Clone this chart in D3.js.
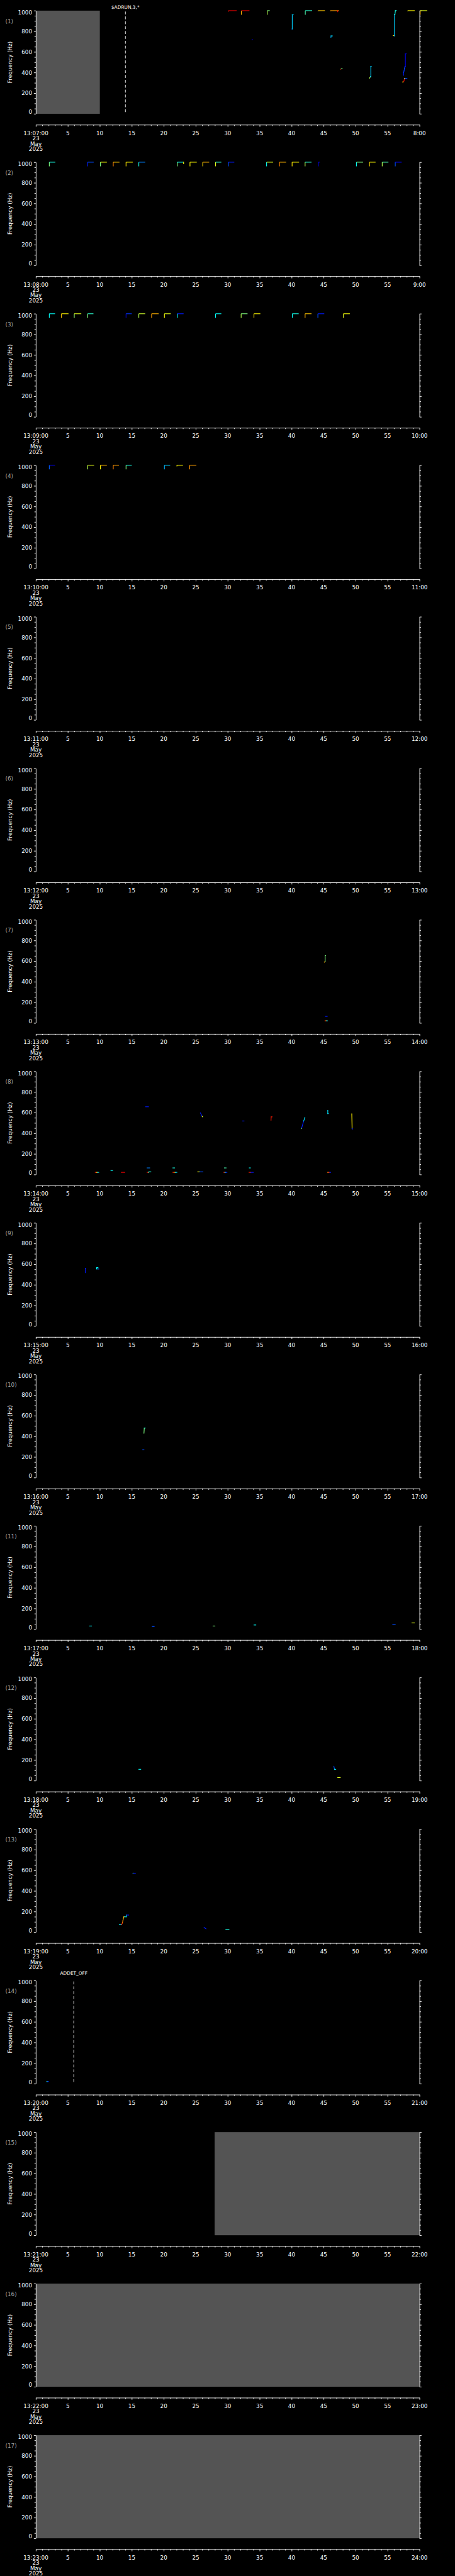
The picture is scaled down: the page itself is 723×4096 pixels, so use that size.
<!DOCTYPE html>
<html><head><meta charset="utf-8">
<script src="https://cdn.jsdelivr.net/npm/d3@7"></script>
<style>html,body{margin:0;padding:0;background:#000;}svg{display:block;}</style>
</head><body>
<svg id="chart" width="723" height="4096" viewBox="0 0 1024 5802"></svg>
<script>
// ---------------- DATA ----------------
const panelStarts = ["13:07","13:08","13:09","13:10","13:11","13:12","13:13","13:14","13:15",
                     "13:16","13:17","13:18","13:19","13:20","13:21","13:22","13:23"];
const dateLines = ["23","May","2025"];
const yMajorTicks = [0,200,400,600,800,1000];
const yMinorTicks = [50,100,150,250,300,350,450,500,550,650,700,750,850,900,950];
const xMajorTicks = [0,5,10,15,20,25,30,35,40,45,50,55,60];
const xMinorTicks = [1,2,3,4,6,7,8,9,11,12,13,14,16,17,18,19,21,22,23,24,26,27,28,29,
                     31,32,33,34,36,37,38,39,41,42,43,44,46,47,48,49,51,52,53,54,56,57,58,59];
// no-data (gray) intervals: [panel, startSec, endSec]
const grayBlocks = [[0,0,10],[14,27.95,60],[15,0,60],[16,0,60]];
// event markers: [panel, sec, label]
const events = [[0,14,"$ADRUN,3,*"],[13,5.93,"ADDET_OFF"]];
// hook-shaped tracks: [panel, tStart, tEnd, fLow, colourVert, colourHoriz]
const hooks = [
 [0,30.1,31.4,990,.85,.9],[0,32.14,33.4,960,.7,.9],[0,36.17,36.57,960,.55,.5],
 [0,42.13,43.2,960,.45,.42],[0,44.12,45.2,995,.7,.68],[0,46.05,47.4,995,.72,.72],
 [0,58.14,59.24,995,.63,.63],[0,60.1,61.2,960,.7,.6],
 [1,2.1,3.04,960,.5,.4],[1,8.09,9.04,960,.15,.2],[1,10.1,11.1,960,.5,.62],[1,12.1,13.07,960,.75,.68],
 [1,14.1,15.15,960,.65,.63],[1,16.1,17.1,960,.4,.25],[1,22.1,23.1,960,.5,.38],[1,24.1,25.16,960,.63,.63],
 [1,26.1,27.1,960,.66,.7],[1,28.1,29.0,960,.6,.42],[1,30.1,31.03,960,.2,.15],[1,36.08,37.1,960,.38,.6],
 [1,38.1,39.13,960,.75,.7],[1,40.07,41.16,960,.65,.63],[1,42.1,43.1,960,.55,.42],[1,44.17,44.4,960,.08,.08],
 [1,50.13,51.17,960,.38,.5],[1,52.17,53.12,960,.66,.63],[1,54.16,55.13,960,.55,.45],[1,56.2,57.2,960,.2,.12],
 [2,2.1,3.0,960,.38,.38],[2,4.0,5.1,960,.68,.63],[2,6.0,7.1,960,.52,.6],[2,8.1,9.0,960,.5,.42],
 [2,14.1,15.0,960,.08,.18],[2,16.1,17.1,960,.55,.58],[2,18.1,19.2,960,.72,.7],[2,20.1,21.1,960,.62,.6],
 [2,22.1,23.1,960,.38,.15],[2,28.1,29.0,960,.38,.38],
 [2,32.1,33.1,960,.55,.5],[2,34.1,35.1,960,.65,.63],[2,40.1,41.1,960,.38,.4],[2,42.1,43.1,960,.7,.68],
 [2,44.1,45.1,960,.2,.15],[2,48.1,49.1,960,.6,.62],
 [3,2.1,3.0,960,.22,.1],[3,8.1,9.1,960,.55,.6],[3,10.1,11.1,960,.63,.7],[3,12.1,13.0,960,.75,.72],
 [3,14.1,15.0,960,.5,.4],[3,20.1,21.0,960,.3,.33],[3,22.05,23.0,990,.63,.63],[3,24.05,25.1,960,.73,.72]
];
// free tracks: [panel, [[sec, Hz, colourOfSegmentEndingHere], ...]]
const tracks = [
 [0,[[33.8,719,.05],[33.9,719,.05]]],
 [0,[[40.05,822,.2],[40.09,822,.2],[40.09,960,.33],[40.25,960,.33]]],
 [0,[[47.2,1000,.88],[47.2,990,.88]]],
 [0,[[46.14,740,.3],[46.16,755,.3],[46.37,755,.35]]],
 [0,[[47.67,432,.85],[47.75,436,.85],[47.9,439,.5]]],
 [0,[[52.17,345,.55],[52.31,360,.55],[52.38,360,.33],[52.38,460,.33],[52.45,460,.33]]],
 [0,[[55.87,758,.65],[56.06,758,.65],[56.08,755,.2],[56.08,963,.33],[56.15,963,.4],[56.22,1000,.4],[56.38,1000,.4]]],
 [0,[[57.5,374,.15],[57.5,400,.15],[57.57,415,.18],[57.64,440,.18],[57.71,458,.2],[57.78,458,.15],[57.78,581,.12],[57.92,581,.12]]],
 [0,[[57.33,308,.65],[57.52,310,.65],[57.57,320,.9],[57.64,343,.9],[57.71,343,.55],[58.03,343,.2]]],
 [1,[[23.1,1000,.62],[23.1,985,.62]]],
 [6,[[45.1,590,.7],[45.23,596,.7],[45.23,653,.5],[45.3,653,.5]]],
 [6,[[45.28,64,.15],[45.56,64,.15]]],
 [6,[[45.2,21,.85],[45.35,21,.85],[45.45,21,.7],[45.6,21,.35]]],
 [7,[[9.28,21,.85],[9.5,21,.85],[9.65,21,.65],[9.83,21,.35]]],
 [7,[[11.73,39,.38],[12.0,39,.38]]],
 [7,[[13.36,21,.88],[13.9,21,.88]]],
 [7,[[17.16,657,.15],[17.61,657,.15]]],
 [7,[[17.39,64,.25],[17.8,64,.25]]],
 [7,[[17.39,21,.85],[17.6,21,.85],[17.7,26,.45],[17.98,26,.4]]],
 [7,[[21.42,64,.4],[21.69,64,.4]]],
 [7,[[21.42,21,.85],[21.6,21,.85],[21.8,21,.7],[22.05,21,.35]]],
 [7,[[25.72,598,.15],[25.99,566,.15],[26.08,559,.6]]],
 [7,[[25.31,26,.62],[25.6,26,.62],[26.13,26,.2]]],
 [7,[[29.48,64,.45],[29.75,64,.45]]],
 [7,[[29.39,21,.85],[29.55,21,.85],[29.7,21,.4],[29.88,21,.15]]],
 [7,[[32.33,519,.15],[32.55,519,.15]]],
 [7,[[33.37,64,.38],[33.55,64,.38]]],
 [7,[[33.33,21,.85],[33.6,21,.85],[34.0,21,.15]]],
 [7,[[36.77,526,.85],[36.8,559,.85],[36.95,559,.85]]],
 [7,[[41.55,445,.5],[41.57,452,.5],[41.88,519,.15],[42.07,554,.35]]],
 [7,[[45.6,619,.35],[45.65,619,.35],[45.65,591,.35],[45.73,591,.35]]],
 [7,[[45.6,21,.75],[45.8,21,.75],[45.95,21,.85],[46.1,21,.15]]],
 [7,[[49.4,588,.64],[49.45,445,.64],[49.54,441,.15]]],
 [8,[[7.74,517,.15],[7.74,561,.15],[7.8,561,.15]]],
 [8,[[9.5,553,.38],[9.5,567,.38],[9.7,567,.38],[9.7,553,.38],[9.85,553,.2]]],
 [9,[[16.9,430,.5],[16.95,480,.5],[17.1,480,.4]]],
 [9,[[16.7,270,.2],[16.9,270,.2]]],
 [10,[[8.4,30,.38],[8.7,30,.38]]],
 [10,[[18.2,25,.2],[18.5,25,.2]]],
 [10,[[27.7,30,.5],[28.0,30,.5]]],
 [10,[[34.1,40,.38],[34.4,40,.38]]],
 [10,[[55.8,45,.2],[56.2,45,.2]]],
 [10,[[58.8,60,.6],[59.2,60,.6]]],
 [11,[[16.1,110,.38],[16.4,110,.38]]],
 [11,[[46.6,140,.2],[46.7,110,.2],[46.9,110,.38]]],
 [11,[[47.2,30,.6],[47.6,30,.6]]],
 [12,[[13.05,72,.38],[13.39,72,.38],[13.53,89,.85],[13.62,115,.75],[13.74,149,.68],[13.86,149,.72],[14.13,149,.38],[14.2,166,.38],[14.5,166,.15]]],
 [12,[[15.18,572,.45],[15.25,572,.45],[15.57,572,.15]]],
 [12,[[26.3,46,.15],[26.6,33,.15]]],
 [12,[[29.7,24,.4],[30.2,24,.4]]],
 [13,[[1.7,21,.4],[1.85,21,.4],[1.97,21,.15]]]
];

// ---------------- LAYOUT ----------------
const W = 1024, H = 5802;
const L = 80.7, R = 944.3, TOP0 = 24, PH = 232.3, PSTEP = 341.3, AXOFF = 257;
const FONT = "DejaVu Sans, sans-serif";
const svg = d3.select("#chart");
svg.append("rect").attr("width", W).attr("height", H).attr("fill", "#000");

const jetInterp = v => {
  const c = u => Math.max(0, Math.min(1, u));
  return d3.rgb(255*c(1.5-Math.abs(4*v-3)), 255*c(1.5-Math.abs(4*v-2)), 255*c(1.5-Math.abs(4*v-1))).toString();
};
const colour = d3.scaleSequential(jetInterp).domain([0,1]);
const x = d3.scaleLinear().domain([0,60]).range([L,R]);

panelStarts.forEach((hm, i) => {
  const T = TOP0 + i*PSTEP;
  const y = d3.scaleLinear().domain([0,1000]).range([T+PH, T]);
  const g = svg.append("g");

  grayBlocks.filter(b => b[0] === i).forEach(b => {
    g.append("rect").attr("x", x(b[1])).attr("y", y(1000))
      .attr("width", x(b[2]) - x(b[1])).attr("height", y(0) - y(1000))
      .attr("fill", "#545454");
  });

  events.filter(e => e[0] === i).forEach(e => {
    g.append("line").attr("x1", x(e[1])).attr("x2", x(e[1]))
      .attr("y1", y(1000)+2).attr("y2", y(0))
      .attr("stroke", "#fff").attr("stroke-width", 1.3).attr("stroke-dasharray", "6.5,4.5");
    g.append("text").attr("x", x(e[1])).attr("y", Math.max(T-13.5, 20))
      .attr("text-anchor", "middle").attr("fill", "#fff")
      .attr("font-family", FONT).attr("font-size", 10.5).text(e[2]);
  });

  const axL = d3.axisLeft(y).tickValues(yMajorTicks).tickSize(4.5).tickSizeOuter(0).tickPadding(4)
    .tickFormat(d3.format("d"));
  const gl = g.append("g").attr("transform", `translate(${L},0)`).call(axL);
  gl.append("g").call(d3.axisLeft(y).tickValues(yMinorTicks).tickSize(3.2).tickSizeOuter(0).tickFormat(""))
    .select(".domain").remove();
  gl.selectAll("text").attr("y", d => d === 1000 ? 4 : d === 0 ? -4 : 0);
  const gr = g.append("g").attr("transform", `translate(${R},0)`)
    .call(d3.axisRight(y).tickValues(yMajorTicks).tickSize(4.5).tickSizeOuter(0).tickFormat(""));
  gr.append("g").call(d3.axisRight(y).tickValues(yMinorTicks).tickSize(3.2).tickSizeOuter(0).tickFormat(""))
    .select(".domain").remove();
  [gl, gr].forEach(a => {
    a.selectAll("path,line").attr("stroke", "#fff").attr("stroke-width", 1.3);
    a.selectAll("text").attr("fill", "#fff").attr("font-family", FONT).attr("font-size", 12.5);
  });

  g.append("text").attr("transform", `translate(27,${(y(0)+y(1000))/2}) rotate(-90)`)
    .attr("text-anchor", "middle").attr("fill", "#fff").attr("font-family", FONT)
    .attr("font-size", 12.5).text("Frequency (Hz)");
  g.append("text").attr("x", 12).attr("y", T + 28).attr("fill", "#a8a8a8")
    .attr("font-family", FONT).attr("font-size", 12.5).text(`(${i+1})`);

  const ay = T + AXOFF;
  const gx = g.append("g").attr("transform", `translate(0,${ay})`)
    .call(d3.axisBottom(x).tickValues(xMajorTicks).tickSize(4.5).tickSizeOuter(0).tickFormat(""));
  gx.append("g").call(d3.axisBottom(x).tickValues(xMinorTicks).tickSize(2.8).tickSizeOuter(0).tickFormat(""))
    .select(".domain").remove();
  gx.selectAll("path,line").attr("stroke", "#fff").attr("stroke-width", 1.3);
  const [hh, mm] = hm.split(":").map(Number);
  xMajorTicks.forEach(s => {
    let lab = String(s);
    if (s === 0) lab = `${hh}:${String(mm).padStart(2,"0")}:00`;
    if (s === 60) lab = `${mm+1}:00`;
    g.append("text").attr("x", x(s)).attr("y", ay + 23).attr("text-anchor", "middle")
      .attr("fill", "#fff").attr("font-family", FONT).attr("font-size", 12.5).text(lab);
  });
  dateLines.forEach((d, k) => {
    g.append("text").attr("x", x(0)).attr("y", ay + 35 + 12*k).attr("text-anchor", "middle")
      .attr("fill", "#fff").attr("font-family", FONT).attr("font-size", 12.5).text(d);
  });

  hooks.filter(h => h[0] === i).forEach(h => {
    g.append("line").attr("x1", x(h[1])).attr("x2", x(h[1])).attr("y1", y(h[3])).attr("y2", y(1000))
      .attr("stroke", colour(h[4])).attr("stroke-width", 1.6);
    g.append("line").attr("x1", x(h[1])).attr("x2", x(h[2])).attr("y1", y(1000)).attr("y2", y(1000))
      .attr("stroke", colour(h[5])).attr("stroke-width", 1.6);
  });
  tracks.filter(tk => tk[0] === i).forEach(tk => {
    const p = tk[1];
    for (let k = 1; k < p.length; k++) {
      g.append("line").attr("x1", x(p[k-1][0])).attr("y1", y(p[k-1][1]))
        .attr("x2", x(p[k][0])).attr("y2", y(p[k][1]))
        .attr("stroke", colour(p[k][2])).attr("stroke-width", 1.6).attr("stroke-linecap", "square");
    }
  });
});
</script>
</body></html>
